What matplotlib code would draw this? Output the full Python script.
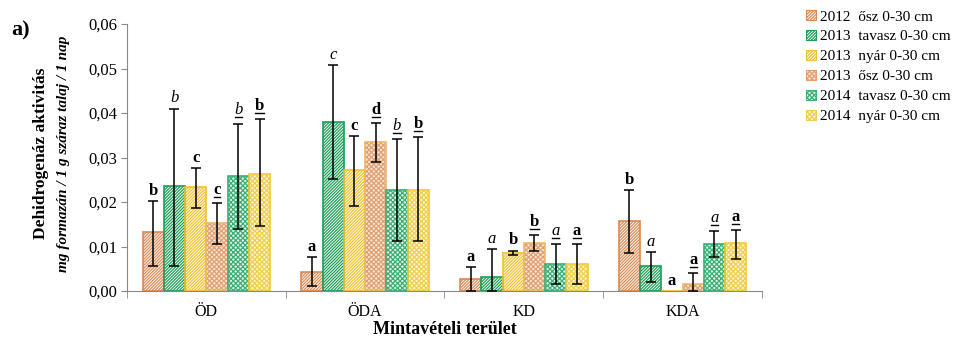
import numpy as np
import matplotlib
matplotlib.use("Agg")
import matplotlib.pyplot as plt
from matplotlib.ticker import FuncFormatter, FixedLocator
from matplotlib.lines import Line2D
from matplotlib.patches import Patch

plt.rcParams['font.family'] = ['Liberation Serif', 'DejaVu Serif']
plt.rcParams['hatch.linewidth'] = 0.9

categories = ['ÖD', 'ÖDA', 'KD', 'KDA']
series = ['2012  ősz 0-30 cm', '2013  tavasz 0-30 cm', '2013  nyár 0-30 cm',
          '2013  ősz 0-30 cm', '2014  tavasz 0-30 cm', '2014  nyár 0-30 cm']

s2012_osz = [0.0132, 0.0043, 0.0026, 0.0158]
s2013_tavasz = [0.0236, 0.0379, 0.0032, 0.0057]
s2013_nyar = [0.0233, 0.0273, 0.0085, 0.0]
s2013_osz = [0.0152, 0.0334, 0.0109, 0.0015]
s2014_tavasz = [0.0259, 0.0227, 0.0061, 0.0105]
s2014_nyar = [0.0264, 0.0227, 0.0061, 0.0107]

# error bar upper / lower ends
hi2012_osz = [0.0203, 0.0077, 0.0053, 0.0227]
hi2013_tavasz = [0.0410, 0.0507, 0.0095, 0.0087]
hi2013_nyar = [0.0277, 0.0349, 0.0091, np.nan]
hi2013_osz = [0.0197, 0.0378, 0.0125, 0.0040]
hi2014_tavasz = [0.0376, 0.0342, 0.0106, 0.0134]
hi2014_nyar = [0.0386, 0.0345, 0.0106, 0.0136]

lo2012_osz = [0.0057, 0.0011, 0.0, 0.0085]
lo2013_tavasz = [0.0057, 0.0251, 0.0, 0.0021]
lo2013_nyar = [0.0186, 0.0192, 0.0080, np.nan]
lo2013_osz = [0.0106, 0.0291, 0.0091, 0.0]
lo2014_tavasz = [0.0140, 0.0112, 0.0015, 0.0076]
lo2014_nyar = [0.0146, 0.0112, 0.0015, 0.0073]

letters2012_osz = ['b', 'a', 'a', 'b']
letters2013_tavasz = ['b', 'c', 'a', 'a']
letters2013_nyar = ['c', 'c', 'b', 'a']
letters2013_osz = ['c', 'd', 'b', 'a']
letters2014_tavasz = ['b', 'b', 'a', 'a']
letters2014_nyar = ['b', 'b', 'a', 'a']

values = [s2012_osz, s2013_tavasz, s2013_nyar, s2013_osz, s2014_tavasz, s2014_nyar]
his = [hi2012_osz, hi2013_tavasz, hi2013_nyar, hi2013_osz, hi2014_tavasz, hi2014_nyar]
los = [lo2012_osz, lo2013_tavasz, lo2013_nyar, lo2013_osz, lo2014_tavasz, lo2014_nyar]
letters = [letters2012_osz, letters2013_tavasz, letters2013_nyar,
           letters2013_osz, letters2014_tavasz, letters2014_nyar]

edge_colors = ['#D98A55', '#1E9E58', '#F2C12E', '#EDB869', '#3BAE76', '#F3CB3A']
hatch_colors = ['#D98A55', '#1E9E58', '#F2C12E', '#E0A070', '#3BAE76', '#F0CE4A']
face_colors = ['#FFFFFF', '#FFFFFF', '#FFFFFF', '#F8E6D8', '#E4F4EA', '#FFF7D6']
hatches = ['/' * 11, '/' * 11, '/' * 11, 'x' * 7, 'x' * 7, 'x' * 7]
# (weight, style, underline)
letter_styles = [('bold', 'normal', False), ('normal', 'italic', False),
                 ('bold', 'normal', False), ('bold', 'normal', True),
                 ('normal', 'italic', True), ('bold', 'normal', True)]

fig = plt.figure(figsize=(9.56, 3.38), dpi=100)
ax = fig.add_axes([0.1328, 0.139, 0.797 - 0.1328, 0.929 - 0.139])

x = np.arange(len(categories))
w = 0.134
underlined = []
for j in range(len(series)):
    pos = x + (j - 2.5) * w
    vals = np.array(values[j])
    ax.bar(pos, vals, width=w, facecolor=face_colors[j], edgecolor=hatch_colors[j],
           hatch=hatches[j], linewidth=0, zorder=2)
    ax.bar(pos, vals, width=w, facecolor='none', edgecolor=edge_colors[j],
           linewidth=1.2, zorder=2.1)
    hi = np.array(his[j]); lo = np.array(los[j])
    mask = ~np.isnan(hi)
    yerr = np.vstack([vals[mask] - lo[mask], hi[mask] - vals[mask]])
    ax.errorbar(pos[mask], vals[mask], yerr=yerr, fmt='none', ecolor='black',
                elinewidth=1.1, capsize=3.5, capthick=1.1, zorder=3)
    wt, st, ul = letter_styles[j]
    for k in range(len(categories)):
        top = hi[k] if not np.isnan(hi[k]) else vals[k]
        t = ax.annotate(letters[j][k], (pos[k], top),
                        xytext=(0, 3.8 if ul else 1.5), textcoords='offset points',
                        ha='center', va='bottom', fontsize=12,
                        fontweight=wt, fontstyle=st)
        if ul:
            underlined.append(t)

handles = [Patch(facecolor=face_colors[j], edgecolor=hatch_colors[j], hatch=hatches[j],
                 linewidth=0.8) for j in range(len(series))]

ax.set_xlim(-0.5, 3.5)
ax.set_ylim(0, 0.06)
ax.set_yticks(np.arange(0, 0.061, 0.01))
ax.yaxis.set_major_formatter(FuncFormatter(lambda v, p: ('%.2f' % v).replace('.', ',')))
ax.set_xticks(x)
ax.set_xticklabels(categories, fontsize=11.5)
ax.xaxis.set_minor_locator(FixedLocator(np.arange(-0.5, 3.6, 1.0)))
ax.tick_params(axis='x', which='major', length=0, pad=9)
ax.tick_params(axis='x', which='minor', length=5, color='#888888')
ax.tick_params(axis='y', length=4, color='#888888', labelsize=12, pad=3)
for s in ['top', 'right']:
    ax.spines[s].set_visible(False)
for s in ['left', 'bottom']:
    ax.spines[s].set_color('#888888')

ax.set_xlabel('Mintavételi terület', fontsize=13, fontweight='bold', labelpad=1)

fig.text(0.043, 0.545, 'Dehidrogenáz aktivitás', rotation=90, ha='center', va='center',
         fontsize=12.5, fontweight='bold')
fig.text(0.066, 0.545, 'mg formazán / 1 g száraz talaj / 1 nap', rotation=90, ha='center',
         va='center', fontsize=11, fontweight='bold', fontstyle='italic')
fig.text(0.012, 0.91, 'a)', fontsize=16, fontweight='bold', ha='left', va='center')

ax.legend(handles, series, loc='upper left', bbox_to_anchor=(0.843, 0.97),
          bbox_transform=fig.transFigure,
          frameon=False, fontsize=11, handlelength=0.65, handleheight=0.65,
          handletextpad=0.25, labelspacing=0.42, borderaxespad=0, borderpad=0)

# underlines beneath the underlined significance letters
fig.canvas.draw()
renderer = fig.canvas.get_renderer()
for t in underlined:
    bb = t.get_window_extent(renderer)
    y = bb.y0 + 1.0
    fig.add_artist(Line2D([bb.x0 + 0.5, bb.x1 - 0.5], [y, y], transform=None,
                          color='black', linewidth=1.0))

fig.savefig('out.png', dpi=100)
